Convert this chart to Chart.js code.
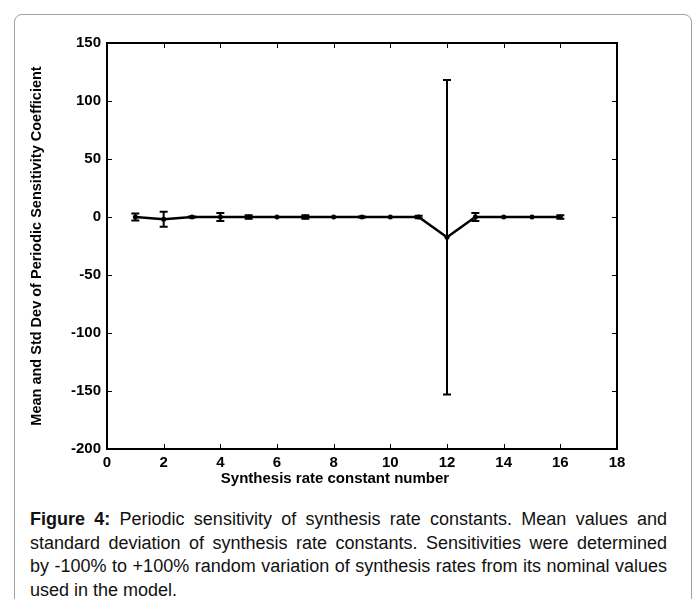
<!DOCTYPE html>
<html>
<head>
<meta charset="utf-8">
<script src="https://cdn.jsdelivr.net/npm/chart.js@4.4.1/dist/chart.umd.min.js"></script>
<style>
	html, body {
		margin: 0;
		padding: 0;
		background: #ffffff;
		width: 696px;
		height: 599px;
		overflow: hidden;
	}
	.card {
		position: absolute;
		left: 14px;
		top: 14px;
		width: 676px;
		height: 620px;
		border: 1px solid #a0a0a0;
		border-radius: 8px;
	}
	.plot {
		position: absolute;
		left: 0;
		top: 0;
		width: 696px;
		height: 500px;
	}
	.xtitle {
		position: absolute;
		left: 185px;
		width: 300px;
		top: 469px;
		text-align: center;
		font-family: "Liberation Sans", Arial, sans-serif;
		font-weight: bold;
		font-size: 15px;
		line-height: 18px;
		color: #000000;
	}
	.caption {
		position: absolute;
		left: 30px;
		top: 508px;
		width: 637px;
		font-family: "Liberation Sans", Arial, sans-serif;
		font-size: 18px;
		line-height: 23.5px;
		color: #111111;
	}
	.caption div {
		text-align: justify;
		text-align-last: justify;
		white-space: nowrap;
	}
	.caption div:last-child {
		text-align-last: left;
	}
</style>
</head>
<body>
<div class="card"></div>
<div class="plot"><canvas id="chart" width="696" height="500"></canvas></div>
<div class="xtitle">Synthesis rate constant number</div>
<div class="caption">
	<div><b>Figure 4:</b> Periodic sensitivity of synthesis rate constants. Mean values and</div>
	<div>standard deviation of synthesis rate constants. Sensitivities were determined</div>
	<div>by -100% to +100% random variation of synthesis rates from its nominal values</div>
	<div>used in the model.</div>
</div>
<script>
const rateConstants = [1, 2, 3, 4, 5, 6, 7, 8, 9, 10, 11, 12, 13, 14, 15, 16];
const meanValues = [0, -2, 0, 0, 0, 0, 0, 0, 0, 0, 0, -17.5, 0, 0, 0, 0];
const stdValues = [3, 6.5, 0.5, 3.5, 1.5, 0, 1.5, 0, 0.4, 0, 1, 135.5, 3.5, 0, 0, 1.5];
const xTicks = [0, 2, 4, 6, 8, 10, 12, 14, 16, 18];
const yTicks = [-200, -150, -100, -50, 0, 50, 100, 150];

const fontFamily = "'Liberation Sans', Arial, sans-serif";
const tickFont = {family: fontFamily, size: 15, weight: "bold"};
const yTitleFont = {family: fontFamily, size: 14.5, weight: "bold"};

const frameAndErrors = {
	id: "frameAndErrors",
	afterDatasetsDraw(chart) {
		const ctx = chart.ctx;
		const area = chart.chartArea;
		const x = chart.scales.x;
		const y = chart.scales.y;
		ctx.save();
		ctx.strokeStyle = "#000000";
		// error bars
		ctx.lineWidth = 2;
		const cap = 4;
		rateConstants.forEach((k, i) => {
			if (stdValues[i] <= 0) {
				return;
			}
			const px = x.getPixelForValue(k);
			const top = y.getPixelForValue(meanValues[i] + stdValues[i]);
			const bottom = y.getPixelForValue(meanValues[i] - stdValues[i]);
			ctx.beginPath();
			ctx.moveTo(px, top);
			ctx.lineTo(px, bottom);
			ctx.moveTo(px - cap, top);
			ctx.lineTo(px + cap, top);
			ctx.moveTo(px - cap, bottom);
			ctx.lineTo(px + cap, bottom);
			ctx.stroke();
		});
		// box and inward ticks
		ctx.lineWidth = 2;
		ctx.strokeRect(area.left, area.top, area.right - area.left, area.bottom - area.top);
		ctx.lineWidth = 1;
		ctx.beginPath();
		xTicks.forEach(v => {
			const px = Math.round(x.getPixelForValue(v)) + 0.5;
			ctx.moveTo(px, area.bottom);
			ctx.lineTo(px, area.bottom - 5);
			ctx.moveTo(px, area.top);
			ctx.lineTo(px, area.top + 5);
		});
		yTicks.forEach(v => {
			const py = Math.round(y.getPixelForValue(v)) + 0.5;
			ctx.moveTo(area.left, py);
			ctx.lineTo(area.left + 5, py);
			ctx.moveTo(area.right, py);
			ctx.lineTo(area.right - 5, py);
		});
		ctx.stroke();
		ctx.restore();
	}
};

const canvas = document.getElementById("chart");
const context = canvas.getContext("2d");
const chart = new Chart(context, {
	type: "line",
	data: {
		datasets: [
			{
				data: rateConstants.map((k, i) => ({x: k, y: meanValues[i]})),
				borderColor: "#000000",
				backgroundColor: "#000000",
				borderWidth: 2.5,
				pointRadius: 2.5,
				pointBorderWidth: 0,
				tension: 0
			}
		]
	},
	options: {
		responsive: false,
		animation: false,
		layout: {
			padding: {left: 0, right: 79, top: 43, bottom: 0}
		},
		plugins: {
			legend: {display: false},
			tooltip: {enabled: false}
		},
		scales: {
			x: {
				type: "linear",
				min: 0,
				max: 18,
				afterBuildTicks: scale => {
					scale.ticks = xTicks.map(v => ({value: v}));
				},
				afterFit: scale => {
					scale.height = 51;
				},
				grid: {display: false, drawTicks: false},
				border: {display: false},
				ticks: {
					color: "#000000",
					font: tickFont,
					padding: 5,
					maxRotation: 0
				}
			},
			y: {
				type: "linear",
				min: -200,
				max: 150,
				afterBuildTicks: scale => {
					scale.ticks = yTicks.map(v => ({value: v}));
				},
				afterFit: scale => {
					scale.width = 107;
				},
				grid: {display: false, drawTicks: false},
				border: {display: false},
				ticks: {
					color: "#000000",
					font: tickFont,
					padding: 6
				},
				title: {
					display: true,
					text: "Mean and Std Dev of Periodic Sensitivity Coefficient",
					color: "#000000",
					font: yTitleFont,
					padding: {top: 28, bottom: 0}
				}
			}
		}
	},
	plugins: [frameAndErrors]
});
</script>
</body>
</html>
